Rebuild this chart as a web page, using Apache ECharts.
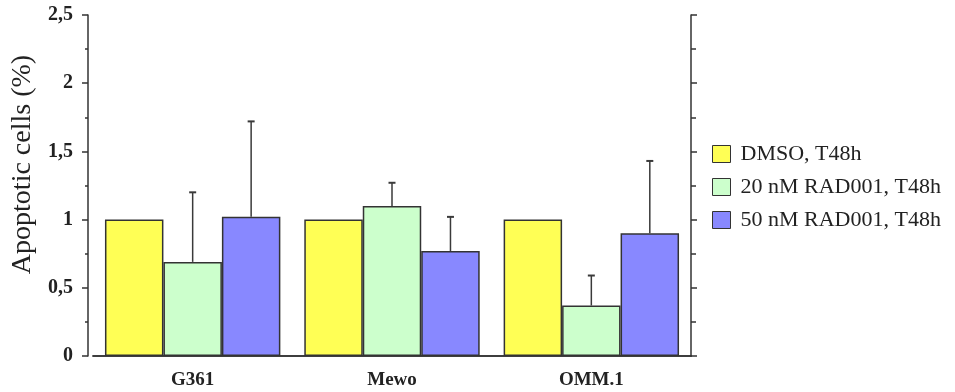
<!DOCTYPE html>
<html>
<head>
<meta charset="utf-8">
<script src="https://cdn.jsdelivr.net/npm/echarts@6/dist/echarts.min.js"></script>
<style>
  html, body { margin: 0; padding: 0; background: #fff; }
  #chart { width: 955px; height: 392px; }
</style>
</head>
<body>
<div id="chart"></div>
<script>
// cell lines
const categories = ['G361', 'Mewo', 'OMM.1']
const seriesNames = ['DMSO, T48h', '20 nM RAD001, T48h', '50 nM RAD001, T48h']
// apoptotic cells, normalised to DMSO
const dmso = [1, 1, 1]
const rad20 = [0.69, 1.10, 0.37]
const rad50 = [1.02, 0.77, 0.90]
// upper error (SD)
const rad20Err = [0.51, 0.17, 0.22]
const rad50Err = [0.70, 0.25, 0.53]
const yTicks = ['0', '0,5', '1', '1,5', '2', '2,5']

const Colors = ['#ffff55', '#ccffcc', '#8888ff']
const serif = 'Liberation Serif'
const catGap = 0.12

let chartDom = document.getElementById('chart')
let myChart = echarts.init(chartDom)

// error bar drawn over a grouped bar (idx = position of the bar in group)
function errorSeries (values, errs, idx) {
  return {
    type: 'custom',
    xAxisIndex: 0,
    yAxisIndex: 0,
    silent: true,
    z: 5,
    data: values.map((v, i) => [i, v, v + errs[i]]),
    renderItem: function (params, api) {
      let catW = api.size([1, 0])[0]
      let barW = catW * (1 - catGap) / 3
      let base = api.coord([api.value(0), api.value(1)])
      let top = api.coord([api.value(0), api.value(2)])
      let x = base[0] + (idx - 1) * barW
      return {
        type: 'group',
        children: [
          { type: 'line', shape: { x1: x, y1: base[1], x2: x, y2: top[1] }, style: { stroke: '#3a3a3a', lineWidth: 1.5 } },
          { type: 'line', shape: { x1: x - 3.5, y1: top[1], x2: x + 3.5, y2: top[1] }, style: { stroke: '#3a3a3a', lineWidth: 2 } }
        ]
      }
    }
  }
}

let barStyle = (c) => ({ color: c, borderColor: '#333', borderWidth: 1.5 })

let option = {
  animation: false,
  grid: { left: 93, right: 264, top: 15, bottom: 36 },
  legend: {
    data: seriesNames,
    orient: 'vertical',
    left: 707,
    top: 138,
    itemWidth: 18,
    itemHeight: 17,
    itemGap: 11,
    icon: 'rect',
    textStyle: { fontFamily: serif, fontSize: 22, color: '#222', padding: [0, 0, 0, 5] },
    itemStyle: { borderColor: '#333', borderWidth: 1 }
  },
  xAxis: [{
    type: 'category',
    data: categories,
    position: 'bottom',
    axisLine: { lineStyle: { color: '#333', width: 1.5 } },
    axisTick: { alignWithLabel: true, length: 4, lineStyle: { color: '#333', width: 1.5 } },
    axisLabel: { margin: 15, fontFamily: serif, fontWeight: 'bold', fontSize: 19, color: '#222' }
  }, {
    type: 'category',
    data: categories,
    position: 'top',
    axisLine: { lineStyle: { color: '#333', width: 1.5 } },
    axisTick: { alignWithLabel: true, inside: true, length: 4, lineStyle: { color: '#333', width: 1.5 } },
    axisLabel: { show: false }
  }],
  yAxis: [{
    type: 'value',
    min: 0,
    max: 2.5,
    interval: 0.5,
    position: 'left',
    offset: 5,
    name: 'Apoptotic cells (%)',
    nameLocation: 'middle',
    nameGap: 50,
    nameTextStyle: { fontFamily: serif, fontSize: 28, color: '#222', padding: [0, 0, 0, 42] },
    axisLine: { show: true, lineStyle: { color: '#333', width: 1.5 } },
    axisTick: { show: true, length: 6, lineStyle: { color: '#333', width: 1.5 } },
    minorTick: { show: true, splitNumber: 2, length: 3, lineStyle: { color: '#333', width: 1.5 } },
    splitLine: { show: false },
    axisLabel: {
      margin: 15,
      fontFamily: serif,
      fontWeight: 'bold',
      fontSize: 20,
      color: '#222',
      formatter: (v) => yTicks[Math.round(v / 0.5)]
    }
  }, {
    type: 'value',
    min: 0,
    max: 2.5,
    interval: 0.5,
    position: 'right',
    axisLine: { show: true, lineStyle: { color: '#333', width: 1.5 } },
    axisTick: { show: true, length: 6, lineStyle: { color: '#333', width: 1.5 } },
    minorTick: { show: true, splitNumber: 2, length: 5, lineStyle: { color: '#333', width: 1.5 } },
    splitLine: { show: false },
    axisLabel: { show: false }
  }],
  series: [
    { name: seriesNames[0], type: 'bar', data: dmso, barGap: '0%', barCategoryGap: '12%', itemStyle: barStyle(Colors[0]) },
    { name: seriesNames[1], type: 'bar', data: rad20, barGap: '0%', barCategoryGap: '12%', itemStyle: barStyle(Colors[1]) },
    { name: seriesNames[2], type: 'bar', data: rad50, barGap: '0%', barCategoryGap: '12%', itemStyle: barStyle(Colors[2]) },
    errorSeries(rad20, rad20Err, 1),
    errorSeries(rad50, rad50Err, 2)
  ]
}

myChart.setOption(option)
window.addEventListener('resize', () => myChart.resize())
</script>
</body>
</html>
